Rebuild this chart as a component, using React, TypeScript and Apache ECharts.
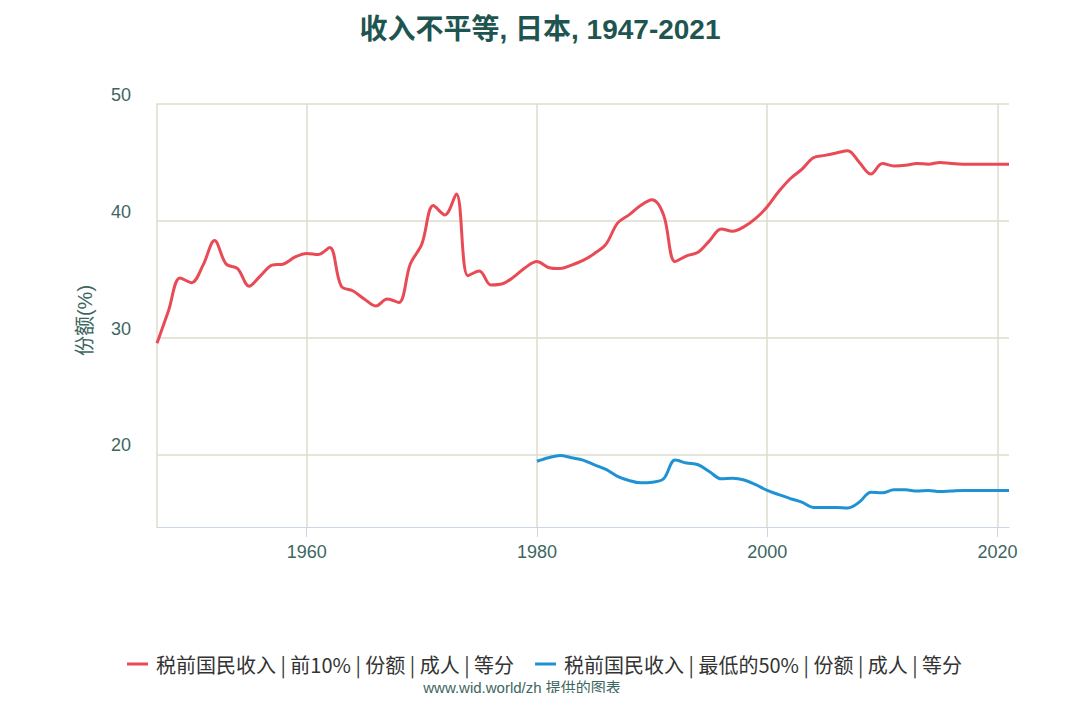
import React, { useEffect, useRef } from "react";
import * as echarts from "echarts";

const titleText = "收入不平等, 日本, 1947-2021";
const yAxisName = "份额(%)";
const creditText = "www.wid.world/zh 提供的图表";
const seriesNames = [
  "税前国民收入 | 前10% | 份额 | 成人 | 等分",
  "税前国民收入 | 最低的50% | 份额 | 成人 | 等分",
];
const xTickValues = [1960, 1980, 2000, 2020];
const yTickValues = [20, 30, 40, 50];

const top10StartYear = 1947;
const top10Values = [
  29.5, 32.3, 35.1, 34.7, 36.2, 38.3, 36.3, 35.9, 34.4, 35.3, // 1947-1956
  36.2, 36.3, 36.9, 37.2, 37.1, 37.7, 34.4, 34.0, 33.3, 32.7, // 1957-1966
  33.3, 33.0, 36.3, 38.0, 41.3, 40.5, 42.3, 35.3, 35.7, 34.5, // 1967-1976
  34.6, 35.2, 36.0, 36.5, 36.0, 35.9, 36.2, 36.6, 37.2, 38.0, // 1977-1986
  39.8, 40.5, 41.3, 41.8, 40.5, 36.5, 37.0, 37.3, 38.3, 39.3, // 1987-1996
  39.1, 39.5, 40.2, 41.2, 42.5, 43.6, 44.4, 45.4, 45.6, 45.8, // 1997-2006
  46.0, 45.0, 44.0, 44.9, 44.7, 44.75, 44.9, 44.85, 45.0, 44.9, // 2007-2016
  44.85, 44.85, 44.85, 44.85, 44.85, // 2017-2021
];

const bottom50StartYear = 1980;
const bottom50Values = [
  19.4, 19.7, 19.9, 19.7, 19.5, 19.1, 18.7, 18.1, 17.75, 17.55, // 1980-1989
  17.6, 17.9, 19.5, 19.25, 19.1, 18.5, 17.9, 17.95, 17.8, 17.4, // 1990-1999
  16.9, 16.55, 16.2, 15.9, 15.45, 15.45, 15.45, 15.4, 15.9, 16.75, // 2000-2009
  16.7, 16.95, 16.95, 16.85, 16.9, 16.8, 16.85, 16.9, 16.9, 16.9, // 2010-2019
  16.9, 16.9, // 2020-2021
];

const toPairs = (start: number, vals: number[]) =>
  vals.map((v, i) => [start + i, v]);

const gridColor = "#dddccd";
const textColor = "#3d6661";

export default function App() {
  const ref = useRef<HTMLDivElement>(null);
  useEffect(() => {
    if (!ref.current) return;
    const chart = echarts.init(ref.current, null, { renderer: "svg" });
    chart.setOption({
      animation: false,
      backgroundColor: "#ffffff",
      title: {
        text: titleText,
        left: "center",
        top: 10,
        textStyle: {
          fontSize: 28,
          fontWeight: "bold",
          color: "#1f5550",
          fontFamily: "Liberation Sans, Noto Sans CJK SC, sans-serif",
        },
      },
      grid: { left: 157, right: 71, top: 104, bottom: 174, containLabel: false },
      xAxis: {
        type: "value",
        min: 1947,
        max: 2021,
        axisLine: { show: true, lineStyle: { color: "#ccd6eb", width: 1 } },
        axisTick: {
          show: true,
          length: 10,
          customValues: xTickValues,
          lineStyle: { color: "#ccd6eb" },
        },
        axisLabel: {
          customValues: xTickValues,
          formatter: (v: number) => String(v),
          margin: 16,
          fontSize: 18,
          color: textColor,
          fontFamily: "Liberation Sans, sans-serif",
        },
        splitLine: { show: true, lineStyle: { color: gridColor, width: 1.5 } },
      },
      yAxis: {
        type: "value",
        min: 13.77,
        max: 50,
        name: yAxisName,
        nameLocation: "middle",
        nameGap: 62,
        nameRotate: 90,
        nameTextStyle: {
          fontSize: 20,
          color: textColor,
          padding: [0, 10, 0, 0],
          fontFamily: "Liberation Sans, Noto Sans CJK SC, sans-serif",
        },
        axisLine: { show: true, lineStyle: { color: gridColor, width: 1.5 } },
        axisTick: { show: false, customValues: yTickValues },
        axisLabel: {
          customValues: yTickValues,
          formatter: (v: number) => String(v),
          margin: 26,
          fontSize: 18,
          color: textColor,
          verticalAlign: "bottom",
          fontFamily: "Liberation Sans, sans-serif",
        },
        splitLine: { show: true, lineStyle: { color: gridColor, width: 1.5 } },
      },
      legend: {
        bottom: 22,
        left: 122,
        icon: "rect",
        itemWidth: 21,
        itemHeight: 3,
        itemGap: 21,
        textStyle: {
          fontSize: 20,
          color: "#333333",
          padding: [0, 0, 0, 3],
          fontFamily: "Noto Sans CJK SC, sans-serif",
        },
        data: seriesNames,
      },
      graphic: [
        {
          type: "text",
          x: 522,
          y: 687,
          style: {
            text: creditText,
            fontSize: 15,
            fill: textColor,
            textAlign: "center",
            textVerticalAlign: "middle",
            fontFamily: "Liberation Sans, Noto Sans CJK SC, sans-serif",
          },
        },
      ],
      series: [
        {
          name: seriesNames[0],
          type: "line",
          data: toPairs(top10StartYear, top10Values),
          smooth: 0.35,
          showSymbol: false,
          symbol: "none",
          lineStyle: { color: "#e84b56", width: 3 },
          itemStyle: { color: "#e84b56" },
        },
        {
          name: seriesNames[1],
          type: "line",
          data: toPairs(bottom50StartYear, bottom50Values),
          smooth: 0.35,
          showSymbol: false,
          symbol: "none",
          lineStyle: { color: "#1f92d4", width: 3 },
          itemStyle: { color: "#1f92d4" },
        },
      ],
    });
    return () => chart.dispose();
  }, []);
  return <div ref={ref} style={{ width: 1080, height: 701, margin: -8 }} />;
}
